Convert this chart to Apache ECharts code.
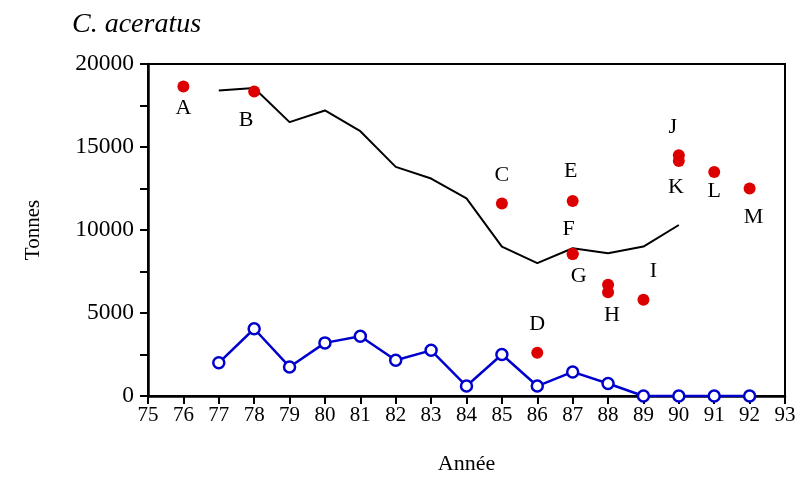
<!DOCTYPE html>
<html>
<head>
<meta charset="utf-8">
<script src="https://cdn.jsdelivr.net/npm/echarts@6/dist/echarts.min.js"></script>
<style>
  html, body { margin: 0; padding: 0; background: #fff; }
  #chart { width: 802px; height: 477px; }
</style>
</head>
<body>
<div id="chart"></div>
<script>
// Catch estimates (tonnes) per year
const modelYears = [77, 78, 79, 80, 81, 82, 83, 84, 85, 86, 87, 88, 89, 90];
const modelTonnes = [18400, 18550, 16500, 17200, 15950, 13800, 13100, 11900, 9000, 8000, 8900, 8600, 9000, 10300];

const landYears = [77, 78, 79, 80, 81, 82, 83, 84, 85, 86, 87, 88, 89, 90, 91, 92];
const landTonnes = [2000, 4050, 1750, 3200, 3600, 2150, 2750, 600, 2500, 600, 1450, 750, 0, 0, 0, 0];

const pointYears  = [76, 78, 85, 86, 87, 87, 87, 88, 88, 89, 90, 90, 91, 92];
const pointTonnes = [18650, 18350, 11600, 2600, 11750, 8550, 8550, 6700, 6250, 5800, 14500, 14150, 13500, 12500];
const pointNames  = ['A', 'B', 'C', 'D', 'E', 'F', 'G', '', 'H', 'I', 'J', 'K', 'L', 'M'];

const xTicks = [75, 76, 77, 78, 79, 80, 81, 82, 83, 84, 85, 86, 87, 88, 89, 90, 91, 92, 93];

// label placement for each named point: [dx, dy] of the letter centre from the dot
const labelShift = {
  A: [0, 22], B: [-8, 29], C: [0, -28], D: [0, -29], E: [-2, -30], F: [-4, -25],
  G: [6, 22], H: [4, 23], I: [10, -29], J: [-6, -28], K: [-3, 26], L: [0, 19], M: [4, 29]
};

const serif = '"Liberation Serif", "DejaVu Serif", serif';

const pointData = pointYears.map((yr, i) => {
  const name = pointNames[i];
  const item = { value: [yr, pointTonnes[i]], name: name };
  if (name) {
    const s = labelShift[name];
    item.label = {
      show: true,
      position: 'inside',
      offset: s,
      formatter: name,
      color: '#000',
      fontFamily: serif,
      fontSize: 22
    };
  }
  return item;
});

const chart = echarts.init(document.getElementById('chart'), null, { renderer: 'canvas' });

chart.setOption({
  animation: false,
  backgroundColor: '#fff',
  title: {
    text: 'C. aceratus',
    left: 67,
    top: 6,
    textStyle: { fontFamily: serif, fontStyle: 'italic', fontWeight: 'normal', fontSize: 28, color: '#000' }
  },
  grid: {
    left: 148, right: 17, top: 64, bottom: 81,
    outerBoundsMode: 'none',
    containLabel: false,
    show: true, borderColor: '#000', borderWidth: 2, backgroundColor: 'transparent'
  },
  xAxis: {
    type: 'value',
    min: 75, max: 93, interval: 1,
    name: 'Année',
    nameLocation: 'middle',
    nameGap: 57,
    nameTextStyle: { fontFamily: serif, fontSize: 22, color: '#000' },
    axisLine: { show: true, lineStyle: { color: '#000', width: 2.5 } },
    axisTick: { show: true, inside: false, length: 8, lineStyle: { color: '#000', width: 2 } },
    axisLabel: {
      fontFamily: serif, fontSize: 21, color: '#000', margin: 9,
      formatter: v => xTicks.includes(v) ? String(v) : ''
    },
    splitLine: { show: false }
  },
  yAxis: {
    type: 'value',
    min: 0, max: 20000, interval: 2500,
    name: 'Tonnes',
    nameLocation: 'middle',
    nameGap: 104,
    nameRotate: 90,
    nameTextStyle: { fontFamily: serif, fontSize: 21, color: '#000' },
    axisLine: { show: true, lineStyle: { color: '#000', width: 2.5 } },
    axisTick: { show: true, inside: false, length: 8, lineStyle: { color: '#000', width: 2 } },
    axisLabel: {
      fontFamily: serif, fontSize: 23.5, color: '#000', margin: 14,
      padding: [5, 0, 0, 0],
      formatter: v => (v % 5000 === 0 ? String(v) : '')
    },
    splitLine: { show: false }
  },
  series: [
    {
      type: 'line',
      data: modelYears.map((yr, i) => [yr, modelTonnes[i]]),
      showSymbol: false,
      symbol: 'none',
      lineStyle: { color: '#000', width: 2 },
      z: 2
    },
    {
      type: 'line',
      data: landYears.map((yr, i) => [yr, landTonnes[i]]),
      symbol: 'circle',
      symbolSize: 11,
      itemStyle: { color: '#fff', borderColor: '#0000cc', borderWidth: 2.5 },
      lineStyle: { color: '#0000cc', width: 2.5 },
      z: 3
    },
    {
      type: 'scatter',
      data: pointData,
      symbol: 'circle',
      symbolSize: 12,
      itemStyle: { color: '#dd0000', opacity: 1 },
      z: 4
    }
  ]
});
</script>
</body>
</html>
